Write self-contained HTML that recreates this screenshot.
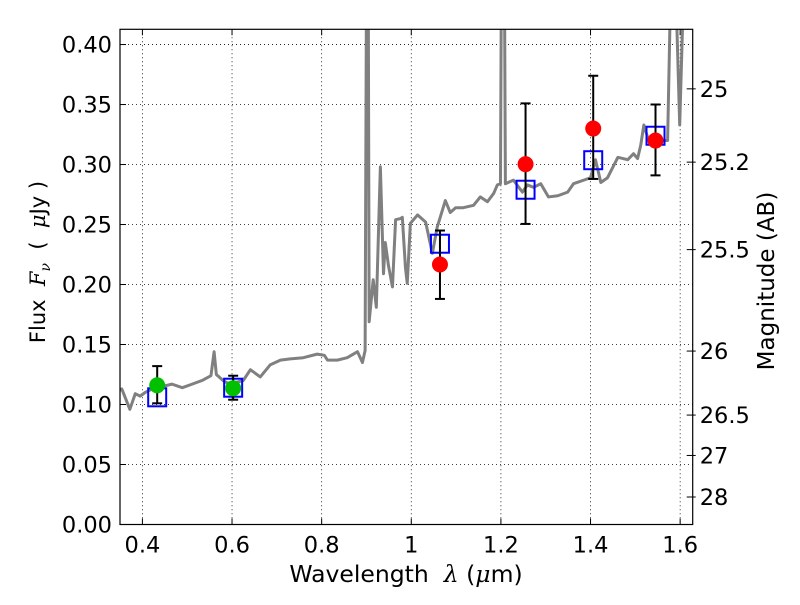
<!DOCTYPE html>
<html><head><meta charset="utf-8"><style>
body{margin:0;background:#fff;}
svg text{font-family:"DejaVu Sans","Liberation Sans",sans-serif;white-space:pre;}
</style></head><body>
<svg id="chart" width="800" height="600" xmlns="http://www.w3.org/2000/svg" xml:space="preserve"></svg>
<script>
const xTicks=[0.4,0.6,0.8,1.0,1.2,1.4,1.6];
const xTickLabels=["0.4","0.6","0.8","1","1.2","1.4","1.6"];
const yTicks=[0,0.05,0.1,0.15,0.2,0.25,0.3,0.35,0.4];
const yTickLabels=["0.00","0.05","0.10","0.15","0.20","0.25","0.30","0.35","0.40"];
const magTicks=[25,25.2,25.5,26,26.5,27,28];
const magLabels=["25","25.2","25.5","26","26.5","27","28"];
const specWave=[0.339,0.354,0.372,0.384,0.395,0.406,0.422,0.466,0.489,0.511,0.533,0.553,0.560,0.565,0.580,0.594,0.625,0.641,0.663,0.685,0.708,0.730,0.759,0.790,0.806,0.813,0.835,0.857,0.880,0.891,0.897,0.900,0.904,0.906,0.915,0.922,0.931,0.938,0.942,0.949,0.958,0.965,0.976,0.980,0.987,0.991,0.998,1.014,1.032,1.047,1.058,1.076,1.087,1.099,1.116,1.139,1.154,1.170,1.184,1.192,1.199,1.201,1.208,1.210,1.228,1.248,1.259,1.273,1.289,1.306,1.327,1.349,1.362,1.385,1.400,1.411,1.423,1.438,1.461,1.483,1.496,1.505,1.512,1.519,1.528,1.541,1.563,1.572,1.579,1.590,1.599,1.608,1.624];
const specFlux=[0.110,0.113,0.096,0.109,0.107,0.110,0.113,0.117,0.114,0.117,0.120,0.124,0.144,0.125,0.120,0.117,0.120,0.129,0.123,0.133,0.137,0.138,0.139,0.142,0.141,0.137,0.137,0.139,0.144,0.135,0.145,0.45,0.45,0.169,0.204,0.181,0.298,0.209,0.235,0.216,0.198,0.254,0.255,0.256,0.214,0.201,0.251,0.258,0.252,0.226,0.248,0.270,0.260,0.264,0.264,0.266,0.273,0.269,0.276,0.283,0.284,0.45,0.45,0.284,0.287,0.277,0.283,0.281,0.284,0.273,0.274,0.277,0.284,0.287,0.289,0.304,0.285,0.289,0.306,0.304,0.309,0.305,0.316,0.333,0.322,0.322,0.320,0.320,0.45,0.45,0.333,0.45,0.45];
const obsWave=[0.433,0.6025,1.064,1.255,1.406,1.545];
const obsFlux=[0.116,0.1136,0.2167,0.3003,0.330,0.320];
const obsErrHi=[0.132,0.124,0.245,0.351,0.374,0.350];
const obsErrLo=[0.101,0.104,0.188,0.2505,0.288,0.291];
const obsColor=["#00c000","#00c000","red","red","red","red"];
const modelWave=[0.433,0.6025,1.064,1.255,1.406,1.545];
const modelFlux=[0.106,0.114,0.234,0.279,0.3036,0.324];

const L=120,R=692.7,T=29.3,B=524.5;
const x0=0.35,x1=1.628,y0=0,y1=0.4127;
const X=v=>L+(v-x0)/(x1-x0)*(R-L);
const Y=v=>B-(v-y0)/(y1-y0)*(B-T);
const svg=document.getElementById('chart');
const NS="http://www.w3.org/2000/svg";
function mk(tag,attrs,parent){const e=document.createElementNS(NS,tag);for(const k in attrs)e.setAttribute(k,attrs[k]);(parent||svg).appendChild(e);return e;}

const defs=mk('defs',{});
const cp=mk('clipPath',{id:'clip'},defs);
mk('rect',{x:L,y:T,width:R-L,height:B-T},cp);

xTicks.forEach((t,i)=>{
  const g=mk('line',{x1:X(t),x2:X(t),y1:T,y2:B,stroke:'#000','stroke-width':0.8,'stroke-dasharray':'1,3'});
  
  
  mk('line',{x1:X(t),x2:X(t),y1:B,y2:B-6,stroke:'#000'});
  mk('line',{x1:X(t),x2:X(t),y1:T,y2:T+6,stroke:'#000'});
  const tx=mk('text',{x:X(t),y:B+28,'text-anchor':'middle','font-size':22.5});
  tx.textContent=xTickLabels[i];
  
  
});
yTicks.forEach((t,i)=>{
  const g=mk('line',{x1:L,x2:R,y1:Y(t),y2:Y(t),stroke:'#000','stroke-width':0.8,'stroke-dasharray':'1,3'});
  
  
  mk('line',{x1:L,x2:L+6,y1:Y(t),y2:Y(t),stroke:'#000'});
  const tx=mk('text',{x:L-8,y:Y(t)+8,'text-anchor':'end','font-size':22.5});
  tx.textContent=yTickLabels[i];
  
  
});
magTicks.forEach((m,i)=>{
  const f=Math.pow(10,(23.9-m)/2.5);
  mk('line',{x1:R,x2:R-6,y1:Y(f),y2:Y(f),stroke:'#000'});
  mk('line',{x1:R,x2:R+3,y1:Y(f),y2:Y(f),stroke:'#000'});
  const tx=mk('text',{x:R+7,y:Y(f)+8,'font-size':22.5});
  tx.textContent=magLabels[i];
  
  
});

const pg=mk('g',{'clip-path':'url(#clip)'});
const sp=mk('polyline',{points:specWave.map((w,i)=>X(w)+','+Y(specFlux[i])).join(' '),fill:'none',stroke:'#808080','stroke-width':3,'stroke-linejoin':'round'},pg);



modelWave.forEach((w,i)=>{
  const r=mk('rect',{x:X(w)-9,y:Y(modelFlux[i])-9,width:18,height:18,fill:'none',stroke:'#0000ff','stroke-width':2},pg);
  
  
});
obsWave.forEach((w,i)=>{
  const x=X(w);
  const e=mk('line',{x1:x,x2:x,y1:Y(obsErrHi[i]),y2:Y(obsErrLo[i]),stroke:'#000','stroke-width':2},pg);
  
  
  mk('line',{x1:x-5,x2:x+5,y1:Y(obsErrHi[i]),y2:Y(obsErrHi[i]),stroke:'#000','stroke-width':2},pg);
  mk('line',{x1:x-5,x2:x+5,y1:Y(obsErrLo[i]),y2:Y(obsErrLo[i]),stroke:'#000','stroke-width':2},pg);
  const c=mk('circle',{cx:x,cy:Y(obsFlux[i]),r:8,fill:obsColor[i]},pg);
  
  
});

const fr=mk('rect',{x:L,y:T,width:R-L,height:B-T,fill:'none',stroke:'#000','stroke-width':1.2});



const xl=mk('text',{x:406,y:582,'text-anchor':'middle','font-size':23.5});
xl.innerHTML='Wavelength  <tspan font-style="italic" font-family="DejaVu Serif">λ</tspan> (<tspan font-style="italic" font-family="DejaVu Serif">μ</tspan>m)';


const yl=mk('text',{x:0,y:0,'text-anchor':'middle','font-size':21,transform:'translate(45,262) rotate(-90)'});
yl.innerHTML='Flux  <tspan font-style="italic" font-family="DejaVu Serif">F</tspan><tspan font-style="italic" font-family="DejaVu Serif" font-size="14" dy="5">ν</tspan><tspan dy="-5">  (  </tspan><tspan font-style="italic" font-family="DejaVu Serif">μ</tspan>Jy )';


const rl=mk('text',{x:0,y:0,'text-anchor':'middle','font-size':23,transform:'translate(774,281) rotate(-90)'});
rl.textContent='Magnitude (AB)';


</script>
</body></html>
